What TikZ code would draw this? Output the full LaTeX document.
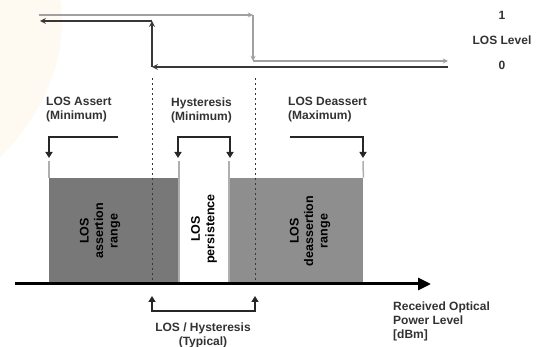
\documentclass[tikz,border=0pt]{standalone}
\usepackage{fontspec}
\setmainfont{Liberation Sans}
\usepackage{tikz}
\usetikzlibrary{arrows.meta, positioning}

\definecolor{txtgrey}{RGB}{50,50,50}
\definecolor{boxA}{RGB}{120,120,120}
\definecolor{boxB}{RGB}{142,142,142}
\definecolor{edgegrey}{RGB}{175,175,175}
\definecolor{hiline}{RGB}{160,160,160}
\definecolor{loline}{RGB}{55,55,55}
\definecolor{wash}{RGB}{254,250,241}

\tikzset{
  lbl/.style = {inner sep=0pt, text=txtgrey, align=left,
                font=\bfseries\fontsize{12}{14}\selectfont},
  rot/.style = {inner sep=0pt, rotate=90, align=center,
                font=\bfseries\fontsize{12.5}{14.5}\selectfont},
  bracket/.style = {line width=2.6pt, black!85},
  tip/.style = {-{Triangle[length=6pt, width=7pt]}}
}

\begin{document}
\begin{tikzpicture} [x=1pt, y=-1pt, node distance = 25pt, on grid]
        \useasboundingbox (0,0) rectangle (536,347);
        \fill [wash] (0,0) -- (60,0) .. controls (70,50) and (45,115) .. (0,157) -- cycle;

        % LOS level steps
        \coordinate (hiL) at (39,15);
        \coordinate (hiC) at (253,15);
        \coordinate (hiD) at (253,61);
        \coordinate (hiE) at (448,61);
        \coordinate (loE) at (448,67);
        \coordinate (loC) at (152,67);
        \coordinate (loU) at (152,21);
        \coordinate (loL) at (40,21);
        \path [-stealth, hiline, line width=1.3pt] (hiL) edge (hiC) (hiC) edge (hiD) (hiD) edge (hiE);
        \path [-stealth, loline, line width=1.6pt] (loE) edge (loC) (loC) edge (loU) (loU) edge (loL);

        \node (one) [lbl] at (502,15) {1};
        \node (level) [lbl, below = of one] {LOS Level};
        \node (zero) [lbl, below = of level] {0};

        % ranges
        \node (assertbox) [fill=boxA, inner sep=0pt, minimum width=129pt, minimum height=106pt, anchor=south west] at (49,284) {};
        \node (deassertbox) [fill=boxB, inner sep=0pt, minimum width=134pt, minimum height=106pt, anchor=south west] at (229,284) {};
        \coordinate (eA) at (49,161);
        \coordinate (eB) at (179,161);
        \coordinate (eC) at (229,161);
        \coordinate (eD) at (363,161);
        \draw [edgegrey, line width=1.5pt] (eA) -- (assertbox.north west);
        \draw [edgegrey, line width=1.5pt] (eD) -- (deassertbox.north east);
        \draw [edgegrey, line width=1.5pt] (eB) -- (179,284);
        \draw [edgegrey, line width=1.5pt] (eC) -- (229,284);

        \node (assertlbl) [rot] at (100,231) {LOS\\assertion\\range};
        \node (persistlbl) [rot] at (204,229) {LOS\\persistence};
        \node (deassertlbl) [rot] at (310,231) {LOS\\deassertion\\range};

        % typical limits
        \coordinate (dashA) at (152,78);
        \coordinate (dashB) at (255,78);
        \draw [loline, line width=0.7pt, dash pattern=on 2.5pt off 2.5pt] (dashA) -- (152,282);
        \draw [loline, line width=0.7pt, dash pattern=on 2.5pt off 2.5pt] (dashB) -- (255,282);

        % power axis
        \coordinate (ax0) at (15,284);
        \coordinate (ax1) at (431,284);
        \draw [line width=3pt, -{Triangle[length=13pt, width=12pt]}] (ax0) -- (ax1);
        \node (powerlbl) [lbl, anchor=west] at (393,321) {Received Optical\\Power Level\\{[dBm]}};

        % upper brackets
        \node (assertmin) [lbl, anchor=west] at (46,110) {LOS Assert\\(Minimum)};
        \node (hystmin) [lbl, anchor=west] at (171,110) {Hysteresis\\(Minimum)};
        \node (deassertmax) [lbl, anchor=west] at (288,110) {LOS Deassert\\(Maximum)};

        \coordinate (aS) at (118,137);
        \coordinate (aE) at (49,158);
        \draw [bracket, tip] (aS) -| (aE);
        \coordinate (hL) at (178,158);
        \coordinate (hT) at (204,137);
        \coordinate (hR) at (230,158);
        \draw [bracket, tip] (hT) -| (hL);
        \draw [bracket, tip] (hT) -| (hR);
        \coordinate (dS) at (290,137);
        \coordinate (dE) at (363,158);
        \draw [bracket, tip] (dS) -| (dE);

        % lower bracket
        \coordinate (bL) at (152,296);
        \coordinate (bB) at (203,311);
        \coordinate (bR) at (255,296);
        \draw [bracket, tip] (bB) -| (bL);
        \draw [bracket, tip] (bB) -| (bR);
        \node (typlbl) [lbl, align=center] at (203,335) {LOS / Hysteresis\\(Typical)};
    \end{tikzpicture}
\end{document}
